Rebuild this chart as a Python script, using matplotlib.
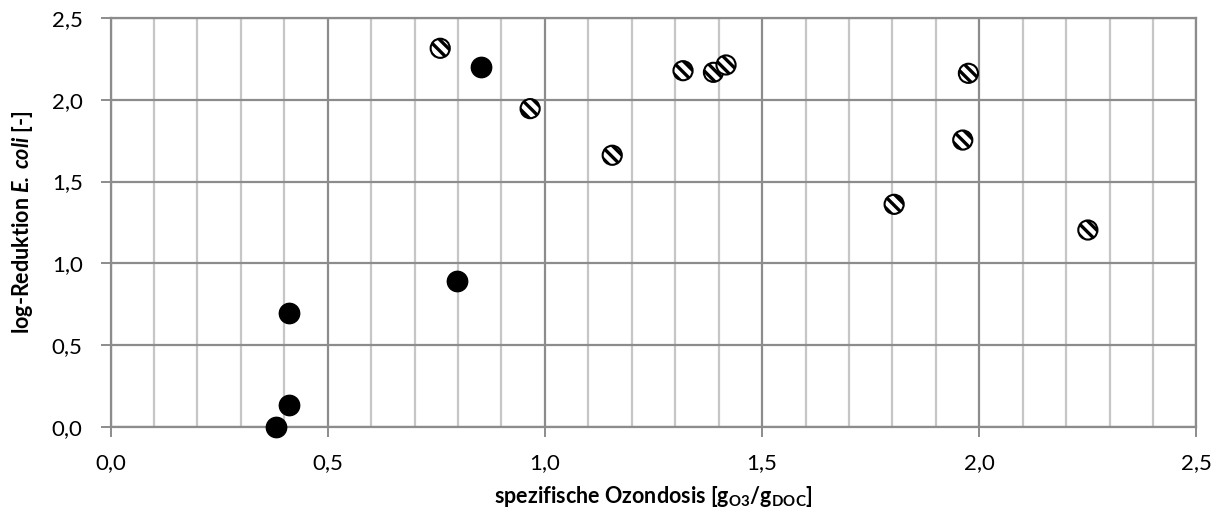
import matplotlib
matplotlib.use("Agg")
import matplotlib.pyplot as plt
from matplotlib.ticker import MultipleLocator, FuncFormatter

plt.rcParams['font.family'] = ['Lato', 'DejaVu Sans']
plt.rcParams['mathtext.fontset'] = 'custom'
plt.rcParams['mathtext.rm'] = 'Lato'
plt.rcParams['mathtext.bf'] = 'Lato:bold'
plt.rcParams['mathtext.it'] = 'Lato:italic'
plt.rcParams['mathtext.bfit'] = 'Lato:italic:bold'
plt.rcParams['hatch.linewidth'] = 2.4

# Spezifische Ozondosis [gO3/gDOC] und log-Reduktion E. coli
dose_striped = [0.759, 0.966, 1.155, 1.318, 1.388, 1.417, 1.804, 1.962, 1.975, 2.250]
logred_striped = [2.315, 1.946, 1.661, 2.178, 2.168, 2.213, 1.361, 1.754, 2.162, 1.204]

dose_filled = [0.380, 0.412, 0.410, 0.797, 0.852]
logred_filled = [0.000, 0.133, 0.699, 0.892, 2.202]

x_ticks = [0.0, 0.5, 1.0, 1.5, 2.0, 2.5]
y_ticks = [0.0, 0.5, 1.0, 1.5, 2.0, 2.5]

fig = plt.figure(figsize=(12.24, 5.15), dpi=100)
ax = fig.add_axes([0.0903, 0.171, 0.8872, 0.794])

ax.set_xlim(0, 2.5)
ax.set_ylim(0, 2.5)
ax.set_xticks(x_ticks)
ax.set_yticks(y_ticks)
ax.xaxis.set_minor_locator(MultipleLocator(0.1))
fmt = FuncFormatter(lambda v, p: f"{v:.1f}".replace('.', ','))
ax.xaxis.set_major_formatter(fmt)
ax.yaxis.set_major_formatter(fmt)

ax.grid(which='minor', axis='x', color='#c6c6c6', linewidth=1.6, zorder=0)
ax.grid(which='major', axis='both', color='#8c8c8c', linewidth=1.6, zorder=0)
ax.set_axisbelow(True)

for s in ax.spines.values():
    s.set_color('#8c8c8c')
    s.set_linewidth(1.6)

ax.tick_params(which='major', length=7, width=1.4, color='#8c8c8c',
               labelsize=16)
ax.tick_params(which='minor', length=0)
ax.tick_params(axis='x', pad=12)
ax.tick_params(axis='y', pad=13)

ax.scatter(dose_striped, logred_striped, s=190, facecolor='white',
           edgecolor='black', linewidth=1.5, hatch='\\\\\\', zorder=3)
ax.scatter(dose_filled, logred_filled, s=215, facecolor='black',
           edgecolor='black', linewidth=1.0, zorder=4, clip_on=False)

ax.set_xlabel(r'spezifische Ozondosis [g$_\mathbf{O3}$/g$_\mathbf{DOC}$]',
              fontsize=15.5, fontweight='bold', labelpad=8)
ax.set_ylabel(r'log-Reduktion $\mathbfit{E.\:coli}$ [-]',
              fontsize=15.5, fontweight='bold', labelpad=12)

fig.savefig('out.png', dpi=100)
